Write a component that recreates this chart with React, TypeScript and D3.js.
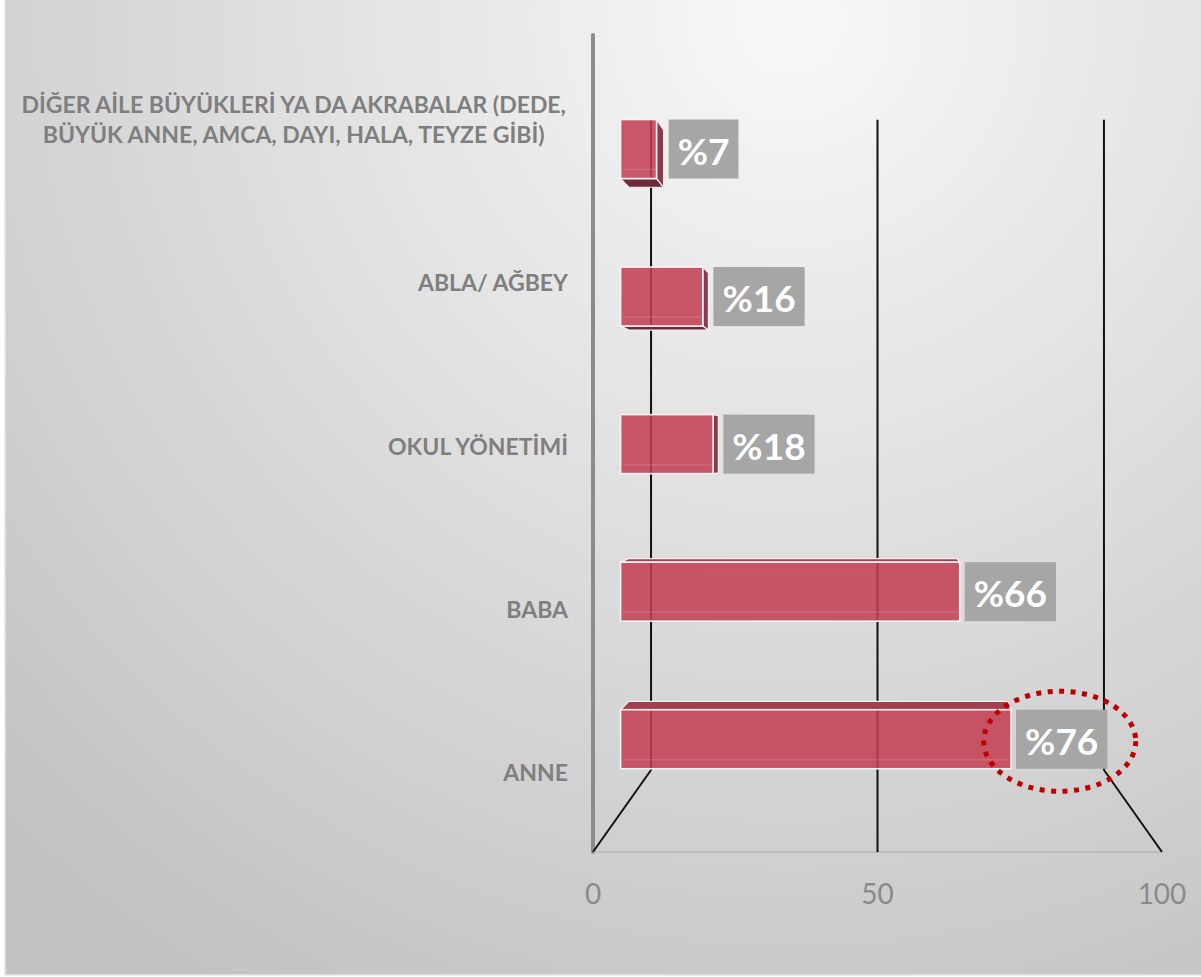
import React from "react";
import * as d3 from "d3";

const categories = [
  "ANNE",
  "BABA",
  "OKUL YÖNETİMİ",
  "ABLA/ AĞBEY",
  "DİĞER AİLE BÜYÜKLERİ YA DA AKRABALAR (DEDE,\nBÜYÜK ANNE, AMCA, DAYI, HALA, TEYZE GİBİ)",
];
const values = [76, 66, 18, 16, 7];
const xTicks = [0, 50, 100];
const highlightIndex = 0;

const W = 1201;
const H = 977;

function measure(text: string, font: string): number {
  const c = document.createElement("canvas").getContext("2d");
  if (!c) return text.length * 12;
  c.font = font;
  return c.measureText(text).width;
}

export default function App() {
  // front plane of the 3D box
  const x = d3.scaleLinear().domain([0, 100]).range([593, 1162]);
  const y = d3.scaleBand<string>().domain(categories).range([852, 35]);
  const bw = y.bandwidth();
  const VX = x(50);
  const VY = 450;
  const kWall = 0.796;
  const kFront = 0.903;
  const kBack = 0.874;
  const proj = (xf: number, yf: number, k: number): [number, number] => [
    VX + (xf - VX) * k,
    VY + (yf - VY) * k,
  ];
  const pts = (arr: [number, number][]) => arr.map((p) => p.join(",")).join(" ");

  const yTop = y.range()[1];
  const yBot = y.range()[0];

  const catFont = "bold 23px Lato";
  const valFont = "bold 37px Lato";

  return (
    <svg
      width={W}
      height={H}
      style={{ position: "absolute", left: 0, top: 0, display: "block" }}
    >
      <defs>
        <radialGradient id="bg" gradientUnits="userSpaceOnUse" cx={790} cy={20} r={1120}>
          <stop offset="0" stopColor="#f8f8f8" />
          <stop offset="1" stopColor="#c2c2c2" />
        </radialGradient>
      </defs>
      <rect x={5} y={-2} width={W} height={977} fill="url(#bg)" stroke="#e6e6e6" strokeWidth={1.5} />

      {/* walls / floor edges */}
      <line x1={x(0)} y1={yTop} x2={x(0)} y2={yBot} stroke="#8c8c8c" strokeWidth={4} strokeLinecap="round" />
      <line x1={x(0)} y1={yBot} x2={x(100)} y2={yBot} stroke="#bdbdbd" strokeWidth={2} />

      {/* gridlines: back wall + floor */}
      {xTicks.map((t) => {
        const a = proj(x(t), yTop, kWall);
        const b = proj(x(t), yBot, kWall);
        return (
          <g key={t}>
            <line x1={a[0]} y1={a[1]} x2={b[0]} y2={b[1]} stroke="#111" strokeWidth={2} />
            <line x1={b[0]} y1={b[1]} x2={x(t)} y2={yBot} stroke="#111" strokeWidth={2} />
          </g>
        );
      })}

      {/* bars */}
      {categories.map((c, i) => {
        const v = values[i];
        const cy = (y(c) as number) + bw / 2;
        const bh = bw * 0.4;
        const x0 = x(0);
        const x1 = x(v);
        const y0 = cy - bh / 2;
        const y1 = cy + bh / 2;
        const fTL = proj(x0, y0, kFront);
        const fTR = proj(x1, y0, kFront);
        const fBR = proj(x1, y1, kFront);
        const fBL = proj(x0, y1, kFront);
        const bTL = proj(x0, y0, kBack);
        const bTR = proj(x1, y0, kBack);
        const bBR = proj(x1, y1, kBack);
        const bBL = proj(x0, y1, kBack);
        const showTop = y0 > VY;
        const showBottom = y1 < VY;
        const showRight = x1 < VX;
        const rightEdge = Math.max(fTR[0], bTR[0]);
        const label = `%${v}`;
        const tw = measure(label, valFont);
        const boxW = tw + 18;
        const boxX = rightEdge + 5;
        const boxY = fTL[1];
        const boxH = fBL[1] - fTL[1];
        return (
          <g key={c}>
            {showTop && (
              <polygon points={pts([fTL, fTR, bTR, bTL])} fill="#a2404f" stroke="#f2f2f2" strokeWidth={1.2} strokeLinejoin="round" />
            )}
            {showBottom && (
              <polygon points={pts([fBL, fBR, bBR, bBL])} fill="#6c2b36" stroke="#f2f2f2" strokeWidth={1.2} strokeLinejoin="round" />
            )}
            {showRight && (
              <polygon points={pts([fTR, bTR, bBR, fBR])} fill="#8a3a48" stroke="#f2f2f2" strokeWidth={1.2} strokeLinejoin="round" />
            )}
            <rect
              x={fTL[0]}
              y={fTL[1]}
              width={fTR[0] - fTL[0]}
              height={fBL[1] - fTL[1]}
              fill="#c43e51"
              fillOpacity={0.86}
              stroke="#f4f4f4"
              strokeWidth={1.6}
            />
            <line x1={fTL[0] + 2} y1={fBL[1] - 9} x2={fTR[0] - 2} y2={fBL[1] - 9} stroke="#ffffff" strokeOpacity={0.12} strokeWidth={1.5} />
            <rect x={boxX} y={boxY} width={boxW} height={boxH} fill="#a6a6a6" />
            <text
              x={boxX + boxW / 2}
              y={boxY + boxH / 2 + 1}
              textAnchor="middle"
              dominantBaseline="central"
              fill="#ffffff"
              style={{ font: valFont }}
            >
              {label}
            </text>
            {i === highlightIndex && (
              <ellipse
                cx={boxX + boxW / 2 - 2}
                cy={boxY + boxH / 2 + 2}
                rx={76}
                ry={50}
                fill="none"
                stroke="#c00000"
                strokeWidth={5}
                strokeDasharray="5 6.5"
              />
            )}
          </g>
        );
      })}

      {/* category labels */}
      {categories.map((c) => {
        const lines = c.split("\n");
        const cy = (y(c) as number) + bw / 2;
        const lh = 30;
        const maxW = d3.max(lines, (l) => measure(l, catFont)) as number;
        const right = 568;
        const multi = lines.length > 1;
        return (
          <text
            key={c}
            fill="#7f7f7f"
            style={{ font: catFont }}
            textAnchor={multi ? "middle" : "end"}
            dominantBaseline="central"
          >
            {lines.map((l, j) => (
              <tspan
                key={j}
                x={multi ? right - maxW / 2 : right}
                y={cy + (j - (lines.length - 1) / 2) * lh + 2}
              >
                {l}
              </tspan>
            ))}
          </text>
        );
      })}

      {/* x tick labels */}
      {xTicks.map((t) => (
        <text
          key={t}
          x={x(t)}
          y={904}
          textAnchor="middle"
          fill="#8a8a8a"
          style={{ font: "28px Lato" }}
        >
          {t}
        </text>
      ))}
    </svg>
  );
}
